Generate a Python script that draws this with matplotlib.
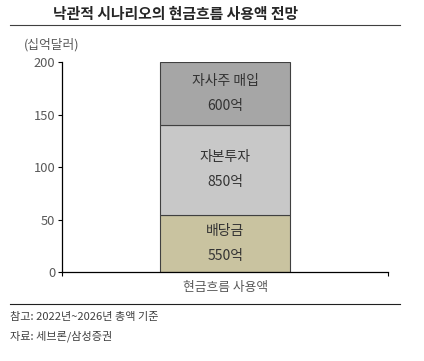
import matplotlib
matplotlib.use("Agg")
import matplotlib.pyplot as plt
from matplotlib.lines import Line2D

plt.rcParams['font.family'] = ['Noto Sans CJK KR', 'DejaVu Sans']

category = ['현금흐름 사용액']
segments = ['배당금', '자본투자', '자사주 매입']
values = [55, 85, 60]
labels = ['550억', '850억', '600억']
seg_colors = ['#c9c3a0', '#c8c8c8', '#a6a6a6']

txt = '#595959'

fig = plt.figure(figsize=(4.24, 3.61), dpi=100)
ax = fig.add_axes([0.147, 0.246, 0.768, 0.581])

bottom = 0
for name, v, lab, c in zip(segments, values, labels, seg_colors):
    ax.bar(0, v, bottom=bottom, width=0.8, color=c, edgecolor='#404040', linewidth=0.8)
    ax.text(0, bottom + v / 2, name + '\n' + lab, ha='center', va='center',
            fontsize=10, color='#333333', linespacing=2.0)
    bottom += v

ax.set_xlim(-1, 1)
ax.set_ylim(0, 200)
ax.set_yticks([0, 50, 100, 150, 200])
ax.tick_params(axis='y', labelsize=9.3, labelcolor=txt, color='black', length=3, width=0.8, pad=2)
ax.set_xticks([0])
ax.set_xticklabels(category)
ax.set_xticks([-1, 1], minor=True)
ax.tick_params(axis='x', which='major', length=0, labelsize=9.2, labelcolor=txt, pad=6)
ax.tick_params(axis='x', which='minor', length=3, width=0.8, color='black')
for s in ['top', 'right']:
    ax.spines[s].set_visible(False)
for s in ['left', 'bottom']:
    ax.spines[s].set_linewidth(0.9)

fig.text(0.125, 0.962, '낙관적 시나리오의 현금흐름 사용액 전망', fontsize=10.7,
         fontweight='bold', color='#262626', va='center')
fig.text(0.056, 0.875, '(십억달러)', fontsize=9.2, color=txt, va='center')
fig.add_artist(Line2D([0.024, 0.943], [0.930, 0.930], color='#404040', linewidth=0.8))
fig.add_artist(Line2D([0.024, 0.943], [0.158, 0.158], color='#202020', linewidth=0.8))
fig.text(0.024, 0.122, '참고: 2022년~2026년 총액 기준', fontsize=8, color='#404040', va='center')
fig.text(0.024, 0.069, '자료: 세브론/삼성증권', fontsize=8, color='#404040', va='center')

fig.savefig('out.png', dpi=100)
